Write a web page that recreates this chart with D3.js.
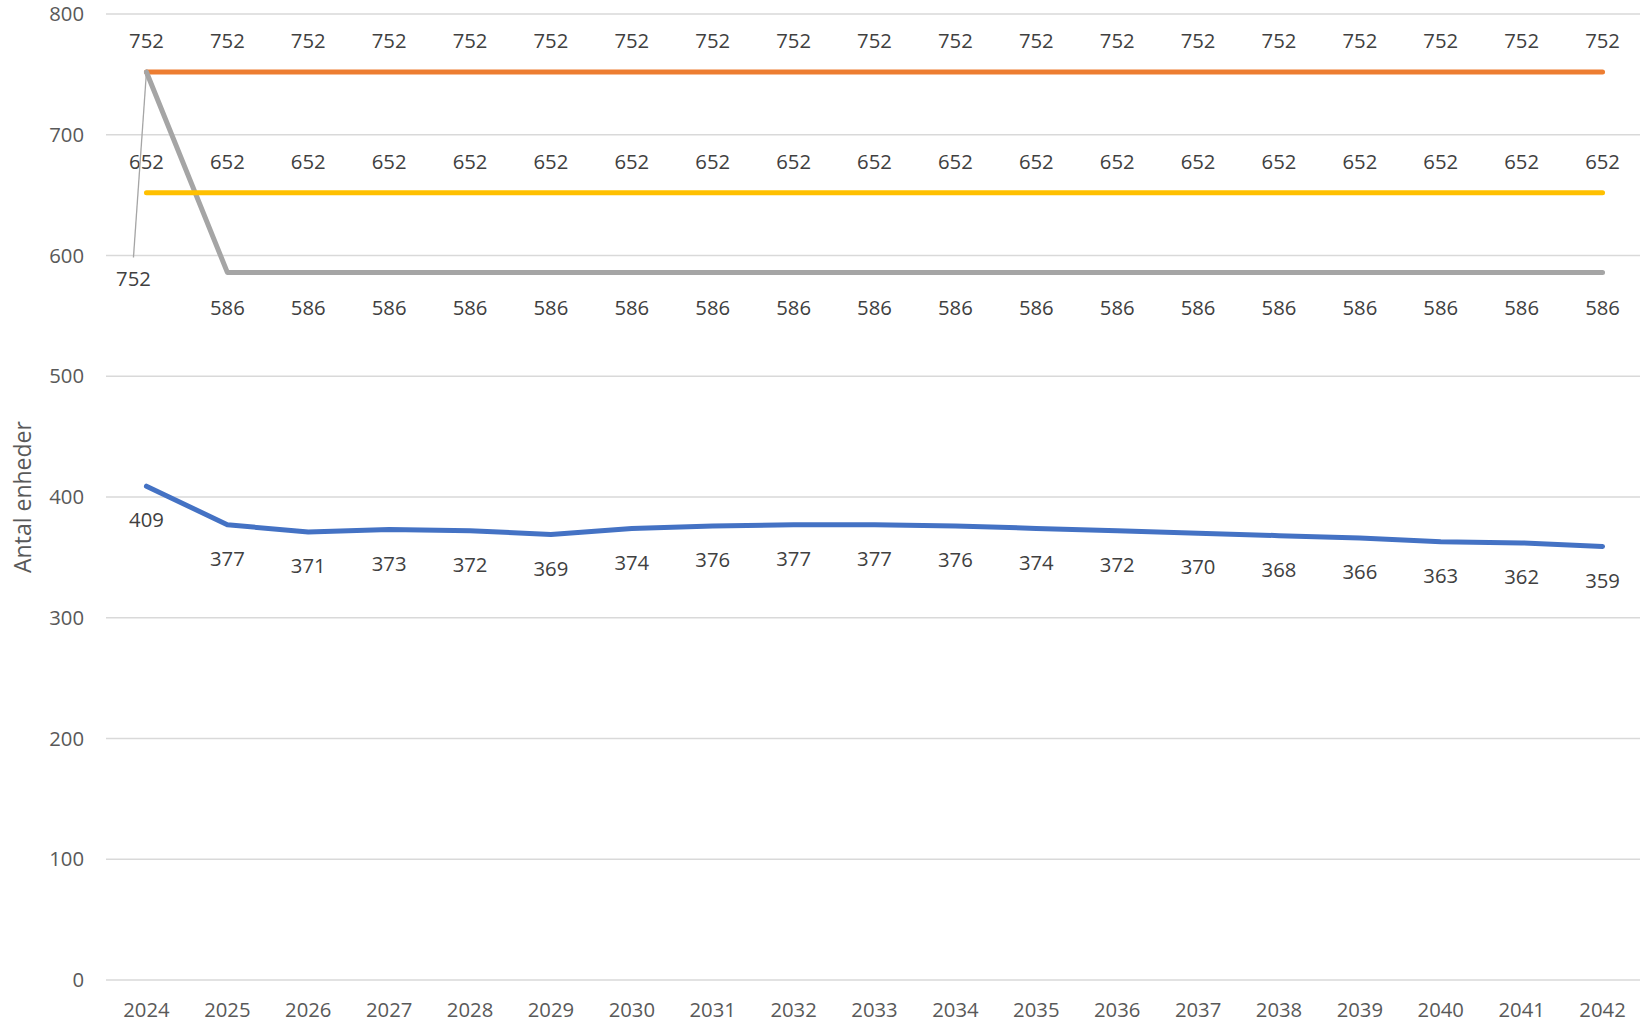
<!DOCTYPE html>
<html>
<head>
<meta charset="utf-8">
<script src="https://cdn.jsdelivr.net/npm/d3@7"></script>
<style>
  body { margin: 0; background: #fff; }
  svg text { font-family: "Open Sans", "Noto Sans", sans-serif; }
</style>
</head>
<body>
<div id="chart"></div>
<script>
// years on the x axis
var years = ["2024","2025","2026","2027","2028","2029","2030","2031","2032","2033",
             "2034","2035","2036","2037","2038","2039","2040","2041","2042"];
// series values
var blueVals   = [409,377,371,373,372,369,374,376,377,377,376,374,372,370,368,366,363,362,359];
var orangeVals = [752,752,752,752,752,752,752,752,752,752,752,752,752,752,752,752,752,752,752];
var grayVals   = [752,586,586,586,586,586,586,586,586,586,586,586,586,586,586,586,586,586,586];
var yellowVals = [652,652,652,652,652,652,652,652,652,652,652,652,652,652,652,652,652,652,652];
var yTicks = [0,100,200,300,400,500,600,700,800];

var width = 1640, height = 1030;
var plotLeft = 106, plotRight = 1643, plotTop = 14, plotBottom = 980;
var fontSize = "20.3px";

var svg = d3.select("#chart").append("svg")
    .attr("width", width)
    .attr("height", height);

var x = d3.scaleBand().domain(years).range([plotLeft, plotRight]);
var y = d3.scaleLinear().domain([0, 800]).range([plotBottom, plotTop]);

function cx(i) { return x(years[i]) + x.bandwidth() / 2; }

// gridlines
svg.append("g").selectAll("line")
    .data(yTicks)
    .enter().append("line")
    .attr("x1", plotLeft).attr("x2", width)
    .attr("y1", function(d) { return y(d); })
    .attr("y2", function(d) { return y(d); })
    .attr("stroke", "#d9d9d9")
    .attr("stroke-width", 1.3);

// y axis labels
var yAxis = svg.append("g")
    .attr("transform", "translate(" + (plotLeft - 22) + ",0)")
    .call(d3.axisLeft(y).tickValues(yTicks).tickSize(0).tickPadding(0));
yAxis.select(".domain").remove();
yAxis.selectAll("text")
    .attr("fill", "#595959")
    .attr("font-size", fontSize)
    .style("font-family", "'Open Sans', sans-serif");

// x axis labels
var xAxis = svg.append("g")
    .attr("transform", "translate(0," + (plotBottom + 23) + ")")
    .call(d3.axisBottom(x).tickSize(0).tickPadding(0));
xAxis.select(".domain").remove();
xAxis.selectAll("text")
    .attr("fill", "#595959")
    .attr("font-size", fontSize)
    .attr("dy", "0.71em")
    .style("font-family", "'Open Sans', sans-serif");

// y axis title
svg.append("text")
    .attr("transform", "translate(31,497) rotate(-90)")
    .attr("text-anchor", "middle")
    .attr("fill", "#595959")
    .attr("font-size", "23px")
    .text("Antal enheder");

var line = d3.line()
    .x(function(d, i) { return cx(i); })
    .y(function(d) { return y(d); });

function drawSeries(vals, color) {
    svg.append("path")
        .datum(vals)
        .attr("d", line)
        .attr("fill", "none")
        .attr("stroke", color)
        .attr("stroke-width", 5)
        .attr("stroke-linecap", "round")
        .attr("stroke-linejoin", "round");
}

drawSeries(blueVals, "#4472c4");
drawSeries(orangeVals, "#ed7d31");
drawSeries(grayVals, "#a5a5a5");
drawSeries(yellowVals, "#ffc000");

// data labels, above (dy < 0) or below (dy > 0) each point
function addLabels(vals, dy, skipFirst) {
    var g = svg.append("g");
    vals.forEach(function(v, i) {
        if (skipFirst && i === 0) return;
        g.append("text")
            .attr("x", cx(i))
            .attr("y", y(v) + dy)
            .attr("dy", "0.35em")
            .attr("text-anchor", "middle")
            .attr("fill", "#404040")
            .attr("font-size", fontSize)
            .text(v);
    });
}
addLabels(orangeVals, -31, false);
addLabels(yellowVals, -31, false);
addLabels(grayVals, 35, true);
addLabels(blueVals, 34, false);

// displaced label for the first gray point, with leader line
var gx = cx(0), gy = y(grayVals[0]);
svg.append("line")
    .attr("x1", gx).attr("y1", gy)
    .attr("x2", gx - 13).attr("y2", y(600) + 2)
    .attr("stroke", "#a5a5a5")
    .attr("stroke-width", 1.3);
svg.append("text")
    .attr("x", gx - 13)
    .attr("y", y(600) + 23)
    .attr("dy", "0.35em")
    .attr("text-anchor", "middle")
    .attr("fill", "#404040")
    .attr("font-size", fontSize)
    .text(grayVals[0]);
</script>
</body>
</html>
